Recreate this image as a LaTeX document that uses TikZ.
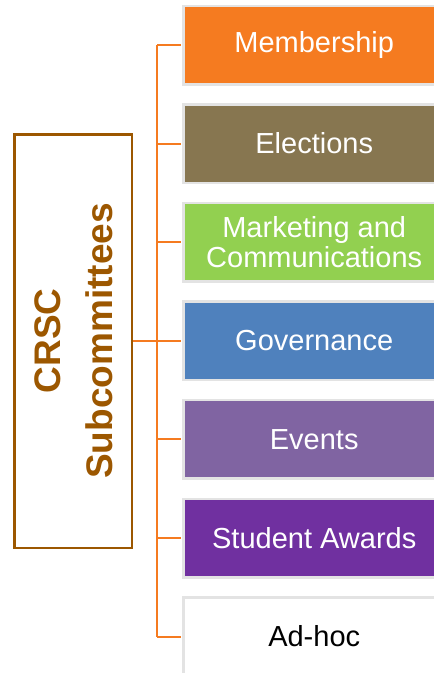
\documentclass[tikz,border=0pt]{standalone}
\usepackage{fontspec}
\setmainfont{Liberation Sans}
\definecolor{corange}{HTML}{F57B20}
\definecolor{celect}{HTML}{877650}
\definecolor{cmarket}{HTML}{92D050}
\definecolor{cgov}{HTML}{4F81BD}
\definecolor{cevents}{HTML}{8064A2}
\definecolor{cstudent}{HTML}{7030A0}
\definecolor{cbrown}{HTML}{9C5700}
\definecolor{cborder}{HTML}{E3E3E3}
\tikzset{
  subbox/.style={rectangle, draw=cborder, line width=2.5pt, minimum width=261pt,
    minimum height=78.5pt, inner sep=0pt, align=center, text=white,
    font=\fontsize{29}{30}\selectfont},
  link/.style={draw=corange, line width=2pt},
  titletext/.style={rotate=90, anchor=base, text=cbrown,
    font=\fontsize{37}{40}\selectfont\bfseries, inner sep=0pt}
}
\begin{document}
\begin{tikzpicture}[x=1pt, y=-1pt]
\useasboundingbox (0,0) rectangle (434,673);
\clip (0,0) rectangle (434,673);
\fill[white] (0,0) rectangle (434,673);
\coordinate (spinetop) at (157,45);
\coordinate (spinebot) at (157,636.6);
\node[rectangle, draw=cbrown, line width=2.5pt, minimum width=117.5pt, minimum height=413.5pt, inner sep=0pt] (crsc) at (73,341) {};
\node[titletext] (t1) at (60,341) {CRSC};
\node[titletext] (t2) at (112,341) {Subcommittees};
\node[subbox, fill=corange] (b1) at (314.2,45) {Membership};
\node[subbox, fill=celect] (b2) at (314.2,143.6) {Elections};
\node[subbox, fill=cmarket] (b3) at (314.2,242.2) {Marketing and\\Communications};
\node[subbox, fill=cgov] (b4) at (314.2,340.8) {Governance};
\node[subbox, fill=cevents] (b5) at (314.2,439.4) {Events};
\node[subbox, fill=cstudent] (b6) at (314.2,538) {Student Awards};
\node[subbox, fill=white, text=black] (b7) at (314.2,636.6) {Ad-hoc};
\draw[link] (spinetop) -- (spinebot);
\draw[link] (crsc.east) -- (crsc.east -| spinetop);
\foreach \b in {b1,b2,b3,b4,b5,b6,b7}{
  \draw[link] (\b.west -| spinetop) -- ([xshift=-1.25pt]\b.west);
}
\end{tikzpicture}
\end{document}
